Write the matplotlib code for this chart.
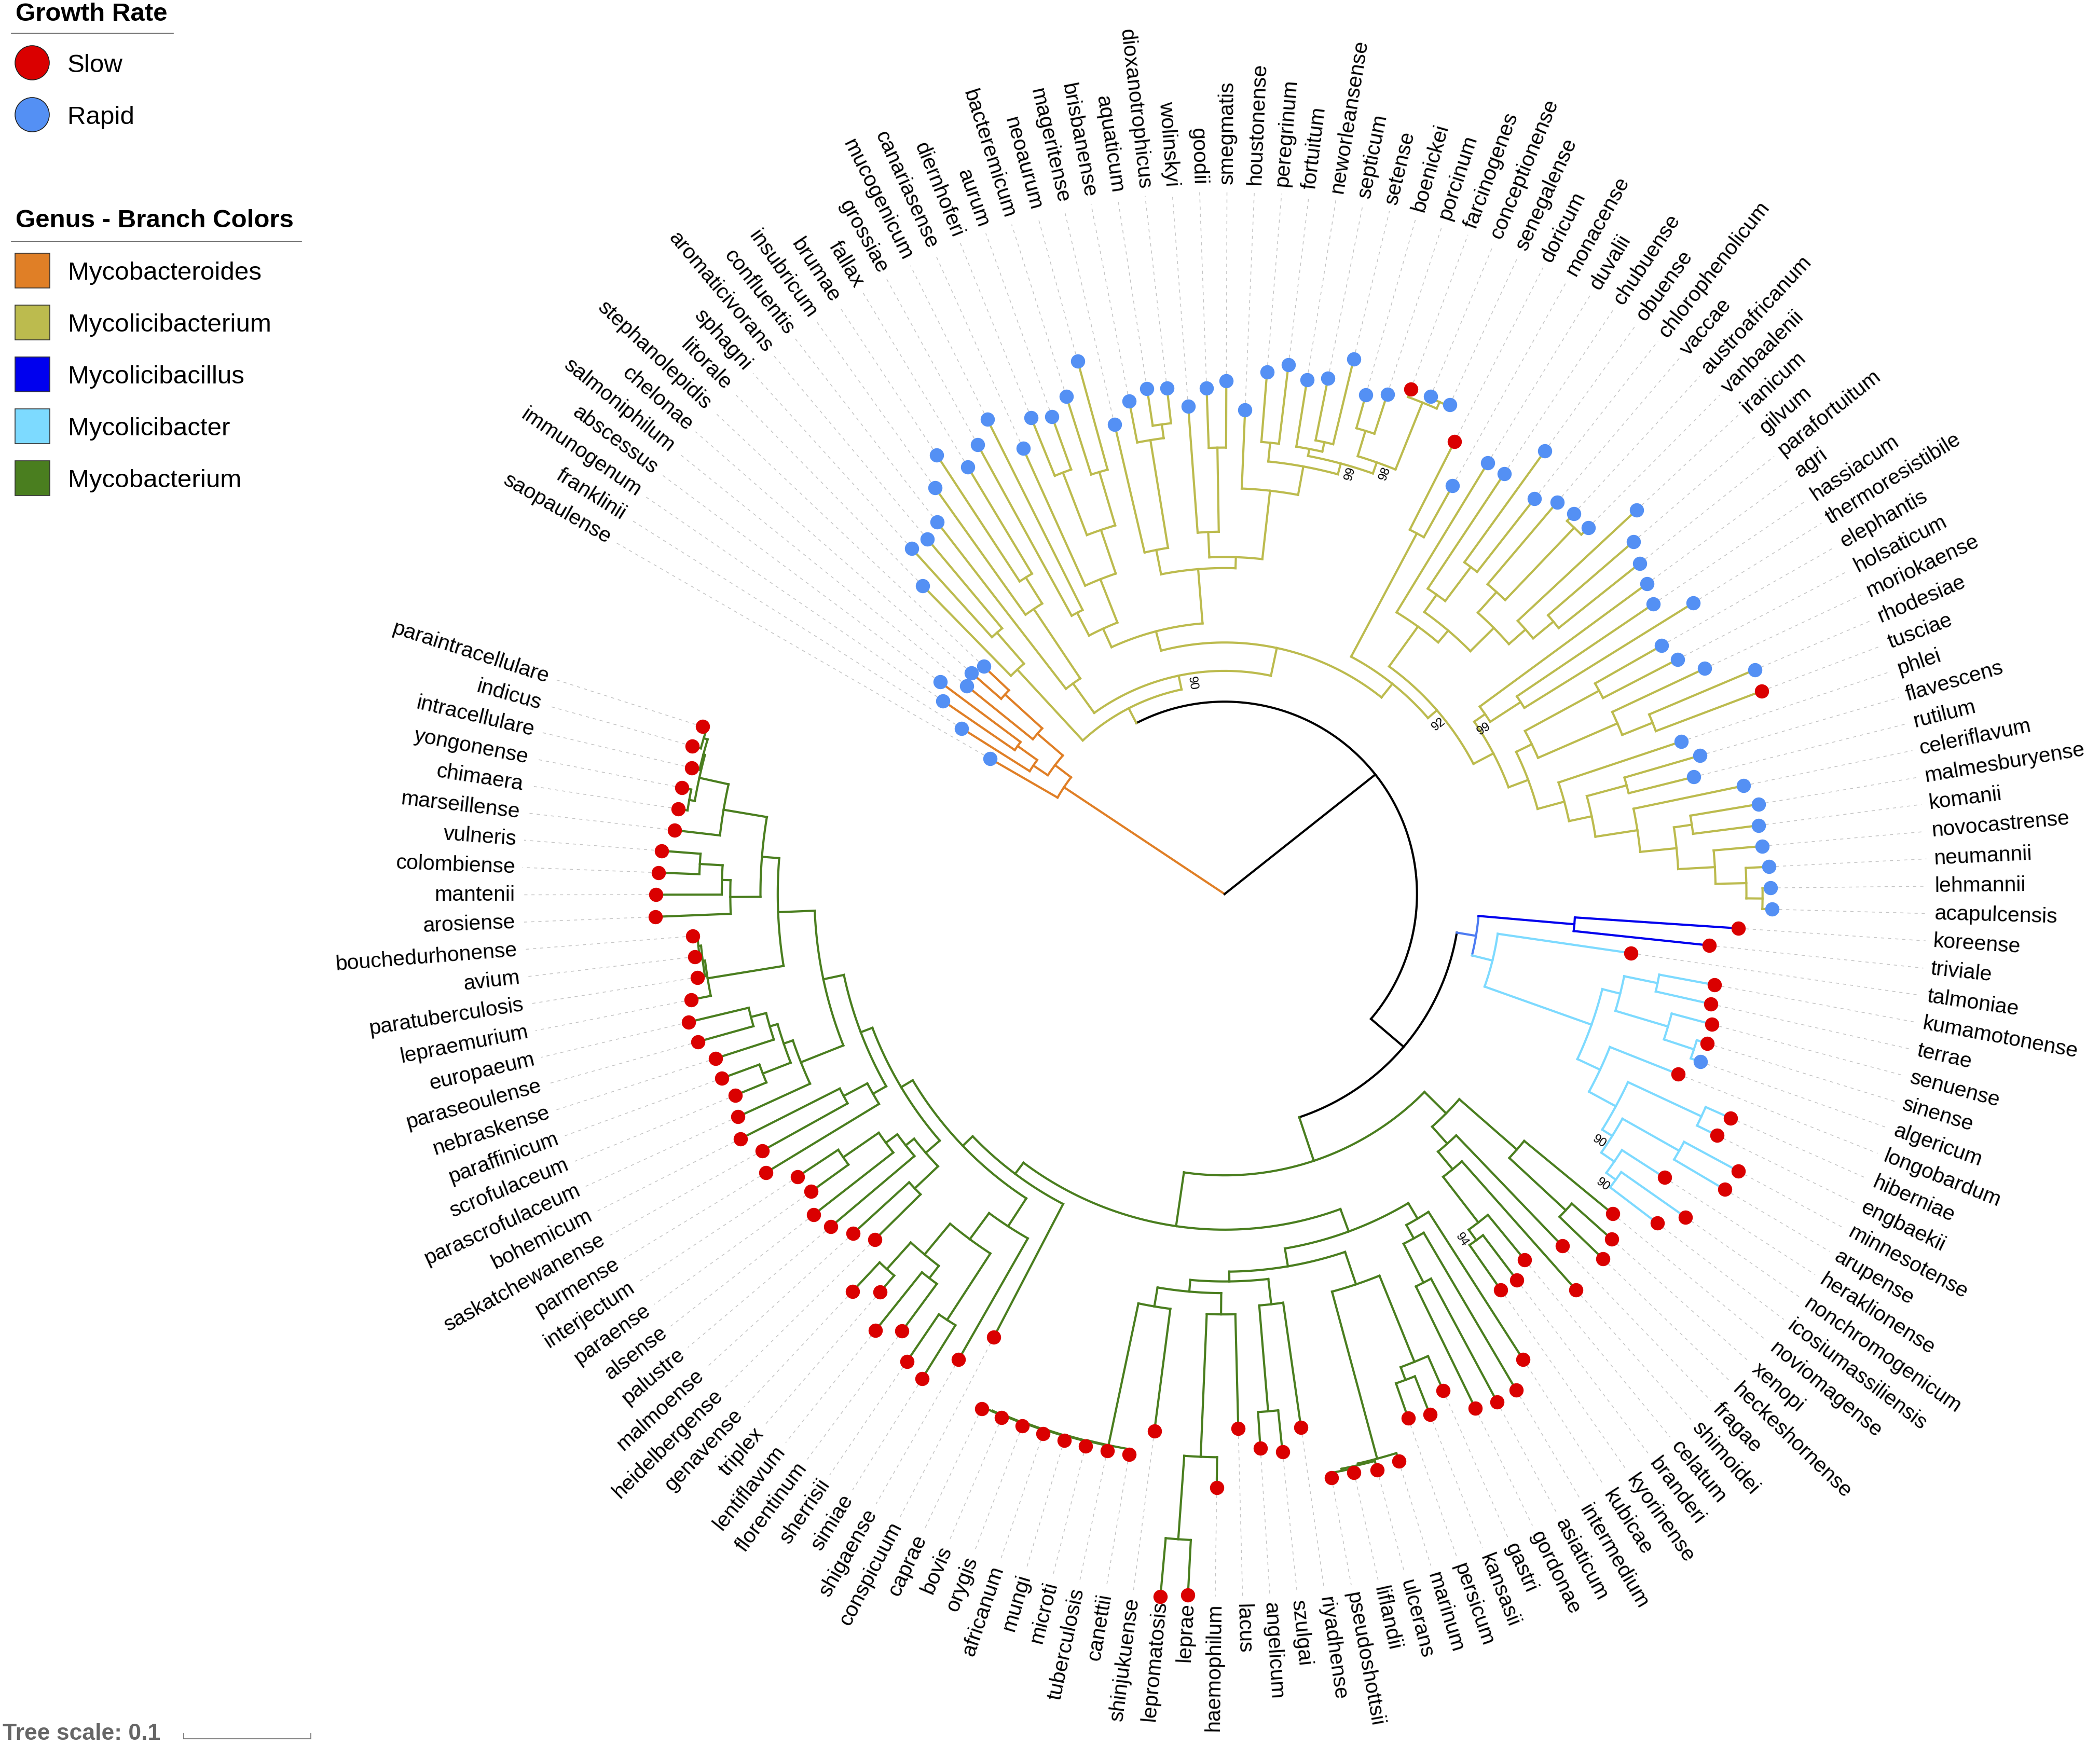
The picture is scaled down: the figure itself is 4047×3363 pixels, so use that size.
import numpy as np
import matplotlib
matplotlib.use("Agg")
import matplotlib.pyplot as plt
from matplotlib.patches import Circle, Rectangle

plt.rcParams["font.family"] = ["Liberation Sans", "DejaVu Sans"]

# ---------------------------------------------------------------------------
# tree data (Newick, branch lengths in substitutions/site, internal numbers = bootstrap)
# ---------------------------------------------------------------------------
BACKBONE = ("(Mycobacteroides:0.1516,(Mycolicibacterium:0.0131,"
            "((Mycolicibacillus:0.0756,Mycolicibacter:0.0166)stem:0.0153,"
            "Mycobacterium:0.0361):0.0338):0.1512);")

MYCOBACTEROIDES = (
    "(saopaulense:0.0611,"
    "((franklinii:0.0632,(immunogenum:0.0684,abscessus:0.0789):0.0189):0.0137,"
    "(salmoniphilum:0.0668,(chelonae:0.0311,stephanolepidis:0.0274):0.0395):0.0263):0.0158)"
)

MYCOLICIBACTERIUM = (
    "("
    "(litorale:0.0989,(sphagni:0.0940,aromaticivorans:0.0915):0.0323):0.0758,"
    "("
    "(confluentis:0.1657,(insubricum:0.1227,(brumae:0.1189,fallax:0.0979):0.0242):0.0657):0.0285,"
    "("
    "("
    "((grossiae:0.1534,mucogenicum:0.1674):0.0202,"
    "(canariasense:0.1183,((diernhoferi:0.0491,aurum:0.0442):0.0526,"
    "(bacteremicum:0.0646,neoaurum:0.0885):0.0438):0.0362):0.0366):0.0160,"
    "("
    "(mageritense:0.1034,(brisbanense:0.0332,(aquaticum:0.0296,dioxanotrophicus:0.0277):0.0109):0.0858):0.0195,"
    "("
    "(wolinskyi:0.0995,(goodii:0.0471,smegmatis:0.0523):0.0661):0.0199,"
    "(houstonense:0.0617,"
    "((peregrinum:0.0551,fortuitum:0.0624):0.0148,"
    "((neworleansense:0.0534,(septicum:0.0496,setense:0.0689):0.0076):0.0056,"
    "((boenickei:0.0274,porcinum:0.0327):0.0208,"
    "(farcinogenes:0.0064,(conceptionense:0.0012,senegalense:0.0012):0.0056):0.0567)98:0.0092"
    ")99:0.0088"
    "):0.0227"
    "):0.0541"
    "):0.0087"
    "):0.0428"
    "):0.0157,"
    "("
    "(doricum:0.0779,monacense:0.0463):0.1098,"
    "("
    "(duvalii:0.1376,((chubuense:0.1086,(obuense:0.1079,chlorophenolicum:0.0732):0.0334):0.0167,"
    "((vaccae:0.0845,(austroafricanum:0.0080,vanbaalenii:0.0077):0.0786):0.0219,"
    "(iranicum:0.1279,(gilvum:0.0887,parafortuitum:0.0814):0.0207):0.0174):0.0259):0.0122):0.0387,"
    "("
    "(agri:0.1629,(hassiacum:0.1296,thermoresistibile:0.1562):0.0285)99:0.0104,"
    "("
    "((elephantis:0.0603,holsaticum:0.0659):0.0663,"
    "(moriokaense:0.0804,(rhodesiae:0.0901,tusciae:0.0891):0.0257):0.0680):0.0137,"
    "(phlei:0.1018,((flavescens:0.0616,rutilum:0.0528):0.0324,"
    "(celeriflavum:0.0885,((malmesburyense:0.0542,komanii:0.0518):0.0142,"
    "(novocastrense:0.0381,(neumannii:0.0181,(lehmannii:0.0062,acapulcensis:0.0075):0.0127)"
    ":0.0242):0.0289):0.0287):0.0334):0.0182):0.0218"
    "):0.0165"
    "):0.0177"
    ")92:0.0093"
    "):0.0137"
    "):0.0223"
    ")90:0.0111"
    ")"
)

MYCOLICIBACILLUS = "(koreense:0.1289,triviale:0.1072)"

MYCOLICIBACTER = (
    "(talmoniae:0.1059,"
    "(((kumamotonense:0.0440,terrae:0.0444):0.0268,"
    "(senuense:0.0328,(sinense:0.0087,algericum:0.0081):0.0248):0.0431):0.0145,"
    "(longobardum:0.0575,((hiberniae:0.0214,engbaekii:0.0174):0.0637,"
    "((minnesotense:0.0484,arupense:0.0461):0.0512,"
    "(heraklionense:0.0398,(nonchromogenicum:0.0616,icosiumassiliensis:0.0466)90:0.0092)"
    ":0.0124)90:0.0093):0.0240):0.0197):0.0892)"
)

MYCOBACTERIUM = (
    "("
    "((noviomagense:0.0900,(xenopi:0.0418,heckeshornense:0.0475):0.0605):0.0601,"
    "(fragae:0.1204,(shimoidei:0.1349,(celatum:0.0456,(branderi:0.0442,kyorinense:0.0428)94:0.0102)"
    ":0.0453):0.0180):0.0179):0.0239,"
    "("
    "((kubicae:0.1379,(intermedium:0.1433,(asiaticum:0.1100,gordonae:0.1066):0.0343):0.0120):0.0142,"
    "(((gastri:0.0295,(kansasii:0.0323,persicum:0.0289):0.0107):0.0731,"
    "(marinum:0.0067,(ulcerans:0.0074,(liflandii:0.0034,pseudoshottsii:0.0037):0.0016):0.0013):0.1360):0.0269,"
    "((riyadhense:0.0989,(szulgai:0.0329,angelicum:0.0283):0.0835):0.0200,"
    "((lacus:0.0899,(haemophilum:0.0239,(leprae:0.0432,lepromatosis:0.0463):0.0657):0.1123):0.0167,"
    "(shinjukuense:0.0969,(canettii:0.0040,(tuberculosis:0.0042,(microti:0.0037,(mungi:0.0032,"
    "(africanum:0.0026,(orygis:0.0021,(bovis:0.0016,caprae:0.0016):0.0005):0.0005):0.0005)"
    ":0.0005):0.0005):0.0005):0.1139):0.0151"
    "):0.0092"
    "):0.0077"
    "):0.0142"
    "):0.0188,"
    "(conspicuum:0.1179,("
    "(shigaense:0.1096,((simiae:0.0497,sherrisii:0.0446):0.0623,"
    "((florentinum:0.0460,lentiflavum:0.0584):0.0122,(triplex:0.0169,genavense:0.0313):0.0281)"
    ":0.0314):0.0255):0.0262,"
    "("
    "((heidelbergense:0.0505,malmoense:0.0595):0.0252,"
    "(palustre:0.0861,(alsense:0.0796,(paraense:0.0360,interjectum:0.0385):0.0339):0.0112):0.0084):0.0146,"
    "((parmense:0.1038,(saskatchewanense:0.0768,bohemicum:0.0874):0.0211):0.0119,"
    "((parascrofulaceum:0.0626,((scrofulaceum:0.0263,paraffinicum:0.0316):0.0235,"
    "(nebraskense:0.0480,(paraseoulense:0.0454,europaeum:0.0487):0.0123):0.0064):0.0076):0.0359,"
    "((lepraemurium:0.0159,(paratuberculosis:0.0059,(avium:0.0039,bouchedurhonense:0.0038)"
    ":0.0021):0.0018):0.0605,"
    "((arosiense:0.0591,(mantenii:0.0518,(colombiense:0.0322,vulneris:0.0309):0.0179):0.0067):0.0237,"
    "(marseillense:0.0360,((chimaera:0.0076,yongonense:0.0074):0.0044,"
    "(intracellulare:0.0064,(indicus:0.0071,paraintracellulare:0.0037):0.0032):0.0013):0.0235):0.0345"
    "):0.0136"
    "):0.0288"
    "):0.0165"
    "):0.0098"
    "):0.0106"
    "):0.0108"
    "):0.0109"
    "):0.0427"
    ")"
)

CLADES = {
    "Mycobacteroides": MYCOBACTEROIDES,
    "Mycolicibacterium": MYCOLICIBACTERIUM,
    "Mycolicibacillus": MYCOLICIBACILLUS,
    "Mycolicibacter": MYCOLICIBACTER,
    "Mycobacterium": MYCOBACTERIUM,
}
GENUS_ORDER = ["Mycobacteroides", "Mycolicibacterium", "Mycolicibacillus",
               "Mycolicibacter", "Mycobacterium"]
GENUS_COLORS = {
    "Mycobacteroides": "#E07F26",
    "Mycolicibacterium": "#BCBB4E",
    "Mycolicibacillus": "#0000EE",
    "Mycolicibacter": "#7DDAFF",
    "Mycobacterium": "#4A7E1F",
}
STEM_COLOR = "#4C7BF2"

# growth rate: everything not listed here is a slow grower
RAPID_GROWERS = [
    "saopaulense", "franklinii", "immunogenum", "abscessus", "salmoniphilum", "chelonae",
    "stephanolepidis", "litorale", "sphagni", "aromaticivorans", "confluentis", "insubricum",
    "brumae", "fallax", "grossiae", "mucogenicum", "canariasense", "diernhoferi", "aurum",
    "bacteremicum", "neoaurum", "mageritense", "brisbanense", "aquaticum", "dioxanotrophicus",
    "wolinskyi", "goodii", "smegmatis", "houstonense", "peregrinum", "fortuitum",
    "neworleansense", "septicum", "setense", "boenickei", "porcinum", "conceptionense",
    "senegalense", "monacense", "duvalii", "chubuense", "obuense", "chlorophenolicum", "vaccae",
    "austroafricanum", "vanbaalenii", "iranicum", "gilvum", "parafortuitum", "agri", "hassiacum",
    "thermoresistibile", "elephantis", "holsaticum", "moriokaense", "rhodesiae", "phlei",
    "flavescens", "rutilum", "celeriflavum", "malmesburyense", "komanii", "novocastrense",
    "neumannii", "lehmannii", "acapulcensis", "algericum",
]
GROWTH_LABELS = ["Slow", "Rapid"]
GROWTH_COLORS = {"Slow": "#DA0000", "Rapid": "#5490F4"}
TREE_SCALE = 0.1

# ---------------------------------------------------------------------------
# layout settings
# ---------------------------------------------------------------------------
W, H = 4048, 3363
CX, CY = 2360, 1723
PX_PER_UNIT = 2452.0
LABEL_R = 1368
START_ANGLE = 150.0
ARC = 350.0
LW = 3.0


def parse_newick(text):
    text = "".join(text.split()).rstrip(";")
    pos = 0

    def read_node():
        nonlocal pos
        node = {"children": [], "name": "", "length": 0.0}
        if text[pos] == "(":
            pos += 1
            node["children"].append(read_node())
            while text[pos] == ",":
                pos += 1
                node["children"].append(read_node())
            pos += 1
        start = pos
        while pos < len(text) and text[pos] not in ":,()":
            pos += 1
        node["name"] = text[start:pos]
        if pos < len(text) and text[pos] == ":":
            pos += 1
            start = pos
            while pos < len(text) and text[pos] not in ",()":
                pos += 1
            node["length"] = float(text[start:pos])
        return node

    return read_node()


def graft(node):
    for i, child in enumerate(node["children"]):
        if not child["children"] and child["name"] in CLADES:
            sub = parse_newick(CLADES[child["name"]])
            sub["length"] = child["length"]
            sub["genus"] = child["name"]
            node["children"][i] = sub
        else:
            graft(child)


def count_leaves(node):
    if not node["children"]:
        return 1
    return sum(count_leaves(c) for c in node["children"])


root = parse_newick(BACKBONE)
graft(root)
n_leaves = count_leaves(root)
leaves = []


def place(node, r_parent, color):
    node["parent_r"] = r_parent
    node["r"] = r_parent + node["length"]
    if "genus" in node:
        color = GENUS_COLORS[node["genus"]]
    if node["name"] == "stem":
        color = STEM_COLOR
    node["color"] = color
    if node["children"]:
        for child in node["children"]:
            place(child, node["r"], color)
        node["angle"] = 0.5 * (node["children"][0]["angle"] + node["children"][-1]["angle"])
    else:
        node["angle"] = START_ANGLE - len(leaves) * ARC / n_leaves
        leaves.append(node)


place(root, 0.0, "black")


def xy(r_px, ang):
    t = np.radians(ang)
    return CX + r_px * np.cos(t), CY - r_px * np.sin(t)


def text_rotation(ang):
    a = (ang + 180.0) % 360.0 - 180.0
    if -90.0 <= a <= 90.0:
        return a, "left"
    return (a - 180.0 if a > 0 else a + 180.0), "right"


fig = plt.figure(figsize=(W / 100, H / 100), dpi=100)
ax = fig.add_axes([0, 0, 1, 1])
ax.set_xlim(0, W)
ax.set_ylim(H, 0)
ax.axis("off")


def draw(node, is_root=False):
    r0 = node["parent_r"] * PX_PER_UNIT
    r1 = node["r"] * PX_PER_UNIT
    if not is_root:
        x, y = xy(np.array([r0, r1]), node["angle"])
        ax.plot(x, y, color=node["color"], lw=LW, solid_capstyle="projecting", zorder=2)
    if node["children"]:
        a0 = node["children"][0]["angle"]
        a1 = node["children"][-1]["angle"]
        if r1 > 0:
            angs = np.linspace(a0, a1, max(int(abs(a0 - a1) * 6), 2))
            x, y = xy(r1, angs)
            ax.plot(x, y, color=node["color"], lw=LW, solid_capstyle="projecting", zorder=2)
        if node["name"].isdigit() and not is_root:
            rb = r0
            ang = node["angle"] - np.degrees(22.0 / rb)
            bx, by = xy(rb + 8, ang)
            rot, _ = text_rotation(ang)
            ax.text(bx, by, node["name"], fontsize=17, rotation=rot, ha="center",
                    va="center", rotation_mode="anchor", zorder=4)
        for child in node["children"]:
            draw(child)


draw(root, is_root=True)

# leaves: leader lines, dots and labels
for leaf in leaves:
    r_px = leaf["r"] * PX_PER_UNIT
    x, y = xy(np.array([r_px, LABEL_R - 14]), leaf["angle"])
    ax.plot(x, y, color="#C4C4C4", lw=1.1, ls=(0, (4, 5)), zorder=1)
    growth = "Rapid" if leaf["name"] in RAPID_GROWERS else "Slow"
    ax.scatter([x[0]], [y[0]], s=390, color=GROWTH_COLORS[growth], lw=0, zorder=5)
    lx, ly = xy(LABEL_R, leaf["angle"])
    rot, ha = text_rotation(leaf["angle"])
    ax.text(lx, ly, leaf["name"], fontsize=29.5, rotation=rot, ha=ha, va="center",
            rotation_mode="anchor", zorder=4)

# legend: growth rate
ax.text(30, 40, "Growth Rate", fontsize=35.5, fontweight="bold", va="baseline", ha="left")
ax.plot([22, 334], [64, 64], color="#555555", lw=1.2)
for i, label in enumerate(GROWTH_LABELS):
    cy = 121 + i * 100
    ax.add_patch(Circle((62, cy), 33, facecolor=GROWTH_COLORS[label], edgecolor="#222222",
                        lw=1.2, zorder=5))
    ax.text(130, cy + 18, label, fontsize=35.5, va="baseline", ha="left")

# legend: genus colours
ax.text(30, 438, "Genus - Branch Colors", fontsize=35.5, fontweight="bold",
        va="baseline", ha="left")
ax.plot([22, 581], [465, 465], color="#555555", lw=1.2)
for i, genus in enumerate(GENUS_ORDER):
    top = 488 + i * 100
    ax.add_patch(Rectangle((29, top), 67, 67, facecolor=GENUS_COLORS[genus],
                           edgecolor="#333333", lw=1.2, zorder=5))
    ax.text(131, top + 51, genus, fontsize=35.5, va="baseline", ha="left")

# tree scale
ax.text(5, 3353, "Tree scale: %g" % TREE_SCALE, fontsize=32, fontweight="bold",
        color="#666666", va="baseline", ha="left")
bar_x0 = 354
bar_x1 = bar_x0 + TREE_SCALE * PX_PER_UNIT
ax.plot([bar_x0, bar_x1], [3351, 3351], color="#777777", lw=1.3)
ax.plot([bar_x0, bar_x0], [3341, 3351], color="#777777", lw=1.3)
ax.plot([bar_x1, bar_x1], [3341, 3351], color="#777777", lw=1.3)

fig.savefig("out.png", dpi=100, facecolor="white")
